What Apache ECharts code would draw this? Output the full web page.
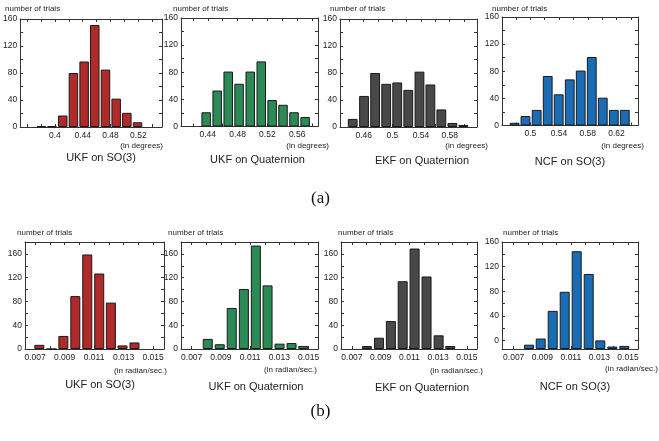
<!DOCTYPE html>
<html>
<head>
<meta charset="utf-8">
<script src="https://cdn.jsdelivr.net/npm/echarts@6/dist/echarts.min.js"></script>
<style>
  html, body { margin: 0; padding: 0; background: #fff; }
  #chart { width: 659px; height: 441px; }
</style>
</head>
<body>
<div id="chart"></div>
<script>
// ---- data ----
const titles = ['UKF on SO(3)', 'UKF on Quaternion', 'EKF on Quaternion', 'NCF on SO(3)'];

// (a) errors in degrees: bin centres and counts
const ukfSo3DegBins = [0.3805, 0.3958, 0.4112, 0.4266, 0.4420, 0.4573, 0.4727, 0.4881, 0.5034, 0.5188];
const ukfSo3DegCounts = [1, 1, 17, 80, 97, 151, 85, 42, 21, 7];
const ukfQuatDegBins = [0.4378, 0.4526, 0.4674, 0.4820, 0.4970, 0.5118, 0.5264, 0.5410, 0.5558, 0.5707];
const ukfQuatDegCounts = [21, 53, 81, 63, 81, 96, 39, 32, 21, 14];
const ekfQuatDegBins = [0.4447, 0.4605, 0.4760, 0.4914, 0.5068, 0.5222, 0.5378, 0.5530, 0.5683, 0.5837, 0.5990];
const ekfQuatDegCounts = [12, 46, 80, 64, 66, 55, 82, 63, 26, 6, 3];
const ncfSo3DegBins = [0.4781, 0.4932, 0.5088, 0.5242, 0.5395, 0.5549, 0.5702, 0.5856, 0.6009, 0.6163, 0.6316];
const ncfSo3DegCounts = [4, 14, 23, 73, 46, 68, 81, 101, 41, 23, 23];

// (b) errors in radian/sec.
const ukfSo3RateBins = [0.00729, 0.00811, 0.00892, 0.00973, 0.01054, 0.01135, 0.01214, 0.01293, 0.01374];
const ukfSo3RateCounts = [7, 0, 22, 89, 159, 127, 78, 6, 11];
const ukfQuatRateBins = [0.00810, 0.00892, 0.00974, 0.01057, 0.01139, 0.01219, 0.01301, 0.01383, 0.01463];
const ukfQuatRateCounts = [17, 8, 69, 101, 174, 107, 9, 10, 5];
const ekfQuatRateBins = [0.00804, 0.00888, 0.00971, 0.01053, 0.01136, 0.01219, 0.01303, 0.01384];
const ekfQuatRateCounts = [5, 19, 47, 114, 169, 122, 23, 5];
const ncfSo3RateBins = [0.00807, 0.00889, 0.00973, 0.01057, 0.01141, 0.01225, 0.01306, 0.01390, 0.01474];
const ncfSo3RateCounts = [7, 17, 62, 93, 159, 122, 14, 4, 5];

// tick labels
const countLabels = [0, 40, 80, 120, 160];
const countTicks = [0, 20, 40, 60, 80, 100, 120, 140, 160, 180];
const degLabels = [
  [0.4, 0.44, 0.48, 0.52],
  [0.44, 0.48, 0.52, 0.56],
  [0.46, 0.5, 0.54, 0.58],
  [0.5, 0.54, 0.58, 0.62]
];
const degTicks = [
  [0.36, 0.38, 0.40, 0.42, 0.44, 0.46, 0.48, 0.50, 0.52, 0.54],
  [0.42, 0.44, 0.46, 0.48, 0.50, 0.52, 0.54, 0.56, 0.58],
  [0.44, 0.46, 0.48, 0.50, 0.52, 0.54, 0.56, 0.58, 0.60],
  [0.48, 0.50, 0.52, 0.54, 0.56, 0.58, 0.60, 0.62, 0.64]
];
const rateLabels = [0.007, 0.009, 0.011, 0.013, 0.015];
const rateTicks = [0.007, 0.008, 0.009, 0.010, 0.011, 0.012, 0.013, 0.014, 0.015];

// ---- layout ----
const colors = ['#b02a2a', '#2b8a56', '#484848', '#1a6db4'];
const FONT = 'Liberation Sans';

const panels = [
  {left: 16, top: 19, width: 146, height: 108, xMin: 0.35, xMax: 0.554, yMin: 0, yMax: 160, barMax: 160,
   bins: ukfSo3DegBins, counts: ukfSo3DegCounts, labels: degLabels[0], ticks: degTicks[0], color: colors[0], barWidth: 9.5},
  {left: 181, top: 18, width: 137, height: 108.5, xMin: 0.404, xMax: 0.588, yMin: 0, yMax: 160, barMax: 160,
   bins: ukfQuatDegBins, counts: ukfQuatDegCounts, labels: degLabels[1], ticks: degTicks[1], color: colors[1], barWidth: 9.5},
  {left: 340, top: 19, width: 137, height: 108, xMin: 0.427, xMax: 0.618, yMin: 0, yMax: 160, barMax: 160,
   bins: ekfQuatDegBins, counts: ekfQuatDegCounts, labels: degLabels[2], ticks: degTicks[2], color: colors[2], barWidth: 9.8},
  {left: 502, top: 17, width: 136, height: 108.5, xMin: 0.4605, xMax: 0.65, yMin: 0, yMax: 160, barMax: 160,
   bins: ncfSo3DegBins, counts: ncfSo3DegCounts, labels: degLabels[3], ticks: degTicks[3], color: colors[3], barWidth: 9.8},
  {left: 25, top: 242, width: 139, height: 107, xMin: 0.00632, xMax: 0.01574, yMin: 0, yMax: 180, barMax: 180,
   bins: ukfSo3RateBins, counts: ukfSo3RateCounts, labels: rateLabels, ticks: rateTicks, color: colors[0], barWidth: 10},
  {left: 181, top: 242, width: 137, height: 107, xMin: 0.00627, xMax: 0.01564, yMin: 0, yMax: 180, barMax: 180,
   bins: ukfQuatRateBins, counts: ukfQuatRateCounts, labels: rateLabels, ticks: rateTicks, color: colors[1], barWidth: 10},
  {left: 341, top: 242, width: 136, height: 107, xMin: 0.00624, xMax: 0.0157, yMin: 0, yMax: 180, barMax: 180,
   bins: ekfQuatRateBins, counts: ekfQuatRateCounts, labels: rateLabels, ticks: rateTicks, color: colors[2], barWidth: 10},
  {left: 502, top: 242, width: 136, height: 107, xMin: 0.00618, xMax: 0.0157, yMin: -14, yMax: 160, barMax: 174,
   bins: ncfSo3RateBins, counts: ncfSo3RateCounts, labels: rateLabels, ticks: rateTicks, color: colors[3], barWidth: 10}
];

const ylabelPos = [[5, 9], [173, 9], [330, 9], [492, 9], [17, 233], [168, 233], [338, 233], [503, 233]];
const unitPos = [[163, 146], [329, 146], [488, 146], [644, 146], [167, 370.5], [317, 370], [483, 370.5], [658, 369]];
const titlePos = [[101, 158], [257.5, 160], [422, 161], [570, 162], [100, 385], [256, 387], [422, 388], [575, 387]];

const lineStyle = {color: '#333', width: 1};
const fmt = v => String(parseFloat(Number(v).toFixed(4)));

const grids = [], xAxes = [], yAxes = [], series = [], graphics = [];

panels.forEach((p, i) => {
  grids.push({left: p.left, top: p.top, width: p.width, height: p.height});

  const xBase = {
    gridIndex: i, type: 'value', min: p.xMin, max: p.xMax,
    splitLine: {show: false},
    axisLine: {show: true, onZero: false, lineStyle},
    axisTick: {show: true, inside: true, length: 3, customValues: p.ticks, lineStyle}
  };
  xAxes.push(Object.assign({}, xBase, {
    position: 'bottom',
    axisLabel: {customValues: p.labels, formatter: fmt, fontSize: 8.5, margin: 4, color: '#222', fontFamily: FONT}
  }));
  xAxes.push(Object.assign({}, xBase, {position: 'top', axisLabel: {show: false}}));

  const yTicks = countTicks.filter(t => t >= Math.max(p.yMin, 0) && t <= p.yMax);
  const yBase = {
    gridIndex: i, type: 'value', min: p.yMin, max: p.yMax,
    splitLine: {show: false},
    axisLine: {show: true, onZero: false, lineStyle},
    axisTick: {show: true, inside: true, length: 3, customValues: yTicks, lineStyle}
  };
  yAxes.push(Object.assign({}, yBase, {
    position: 'left',
    axisLabel: {customValues: countLabels, fontSize: 8.5, margin: 3, color: '#222', fontFamily: FONT}
  }));
  yAxes.push(Object.assign({}, yBase, {position: 'right', axisLabel: {show: false}}));
  yAxes.push({gridIndex: i, type: 'value', min: 0, max: p.barMax, show: false});

  series.push({
    type: 'bar',
    xAxisIndex: 2 * i,
    yAxisIndex: 3 * i + 2,
    barWidth: p.barWidth,
    data: p.bins.map((x, k) => [x, p.counts[k]]),
    itemStyle: {color: p.color, borderColor: '#1a1a1a', borderWidth: 1}
  });

  graphics.push({
    type: 'text', x: ylabelPos[i][0], y: ylabelPos[i][1],
    style: {text: 'number of trials', font: '8px "' + FONT + '"', fill: '#222',
            align: 'left', verticalAlign: 'middle', textAlign: 'left', textVerticalAlign: 'middle'}
  });
  graphics.push({
    type: 'text', x: unitPos[i][0], y: unitPos[i][1],
    style: {text: i < 4 ? '(in degrees)' : '(in radian/sec.)', font: '8px "' + FONT + '"', fill: '#222',
            align: 'right', verticalAlign: 'middle', textAlign: 'right', textVerticalAlign: 'middle'}
  });
  graphics.push({
    type: 'text', x: titlePos[i][0], y: titlePos[i][1],
    style: {text: titles[i % 4], font: '11px "' + FONT + '"', fill: '#222',
            align: 'center', verticalAlign: 'middle', textAlign: 'center', textVerticalAlign: 'middle'}
  });
});

graphics.push({
  type: 'text', x: 320.5, y: 199,
  style: {text: '(a)', font: '17px "Liberation Serif"', fill: '#111',
          align: 'center', verticalAlign: 'middle', textAlign: 'center', textVerticalAlign: 'middle'}
});
graphics.push({
  type: 'text', x: 320.5, y: 412,
  style: {text: '(b)', font: '17px "Liberation Serif"', fill: '#111',
          align: 'center', verticalAlign: 'middle', textAlign: 'center', textVerticalAlign: 'middle'}
});

const chart = echarts.init(document.getElementById('chart'));
chart.setOption({
  animation: false,
  backgroundColor: '#fff',
  grid: grids,
  xAxis: xAxes,
  yAxis: yAxes,
  series: series,
  graphic: graphics
});
</script>
</body>
</html>
